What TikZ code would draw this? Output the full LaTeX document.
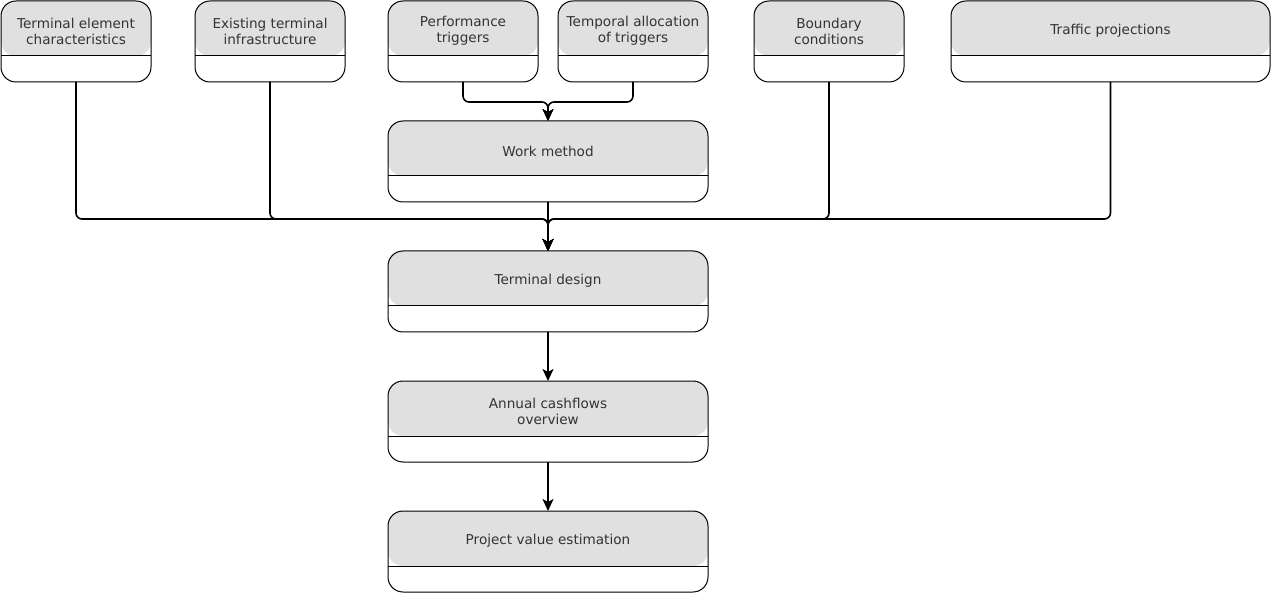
\documentclass[tikz,border=0pt]{standalone}
\usepackage{fontspec}
\setmainfont{DejaVu Sans}
\usetikzlibrary{arrows.meta,calc}
\definecolor{boxgray}{HTML}{E0E0E0}
\definecolor{txtgray}{HTML}{333333}
\tikzset{
  swbox/.style={draw=black, line width=1pt, fill=white, rounded corners=15pt,
    minimum height=81pt, inner sep=0pt, outer sep=0pt,
    path picture={
      \fill[boxgray] (path picture bounding box.north west) rectangle ([yshift=26pt]path picture bounding box.south east);
      \draw[line width=1pt] ([yshift=26pt]path picture bounding box.south west) -- ([yshift=26pt]path picture bounding box.south east);
    }},
  boxtext/.style={text=txtgray, font=\fontsize{13.6}{16}\selectfont, align=center, inner sep=0pt},
  conn/.style={draw=black, line width=1.6pt, rounded corners=6pt, -{Stealth[length=12pt,width=11pt,inset=3pt]}},
}
\begin{document}
\begin{tikzpicture}[x=1pt,y=-1pt]
\useasboundingbox (0,0) rectangle (1271,593);
% top boxes
\node[swbox, minimum width=150pt] (b1) at (76,41.5) {};
\node[swbox, minimum width=150pt] (b2) at (270,41.5) {};
\node[swbox, minimum width=150pt] (b3) at (463,41.5) {};
\node[swbox, minimum width=150pt] (b4) at (633,41.5) {};
\node[swbox, minimum width=150pt] (b5) at (829,41.5) {};
\node[swbox, minimum width=319pt] (b6) at (1110.5,41.5) {};
% middle column
\node[swbox, minimum width=320pt] (wm) at (548,161.5) {};
\node[swbox, minimum width=320pt] (td) at (548,291.5) {};
\node[swbox, minimum width=320pt] (ac) at (548,421.5) {};
\node[swbox, minimum width=320pt] (pv) at (548,551.5) {};
% texts
\node[boxtext] (b1t) at ([yshift=-30pt]b1.north) {Terminal element\\characteristics};
\node[boxtext] (b2t) at ([yshift=-30pt]b2.north) {Existing terminal\\infrastructure};
\node[boxtext] (b3t) at ([yshift=-30pt]b3.north) {Performance\\triggers};
\node[boxtext] (b4t) at ([yshift=-30pt]b4.north) {Temporal allocation\\of triggers};
\node[boxtext] (b5t) at ([yshift=-30pt]b5.north) {Boundary\\conditions};
\node[boxtext] (b6t) at ([yshift=-30pt]b6.north) {Traffic projections};
\node[boxtext] (wmt) at ([yshift=-30pt]wm.north) {Work method};
\node[boxtext] (tdt) at ([yshift=-30pt]td.north) {Terminal design};
\node[boxtext] (act) at ([yshift=-30pt]ac.north) {Annual cashflows\\overview};
\node[boxtext] (pvt) at ([yshift=-30pt]pv.north) {Project value estimation};
% connectors
\draw[conn] (b3.south) |- ([yshift=19pt]wm.north) -- (wm.north);
\draw[conn] (b4.south) |- ([yshift=19pt]wm.north) -- (wm.north);
\draw[conn] (b1.south) |- ([yshift=32pt]td.north) -- (td.north);
\draw[conn] (b2.south) |- ([yshift=32pt]td.north) -- (td.north);
\draw[conn] (b5.south) |- ([yshift=32pt]td.north) -- (td.north);
\draw[conn] (b6.south) |- ([yshift=32pt]td.north) -- (td.north);
\draw[conn] (wm.south) -- (td.north);
\draw[conn] (td.south) -- (ac.north);
\draw[conn] (ac.south) -- (pv.north);
\end{tikzpicture}
\end{document}
